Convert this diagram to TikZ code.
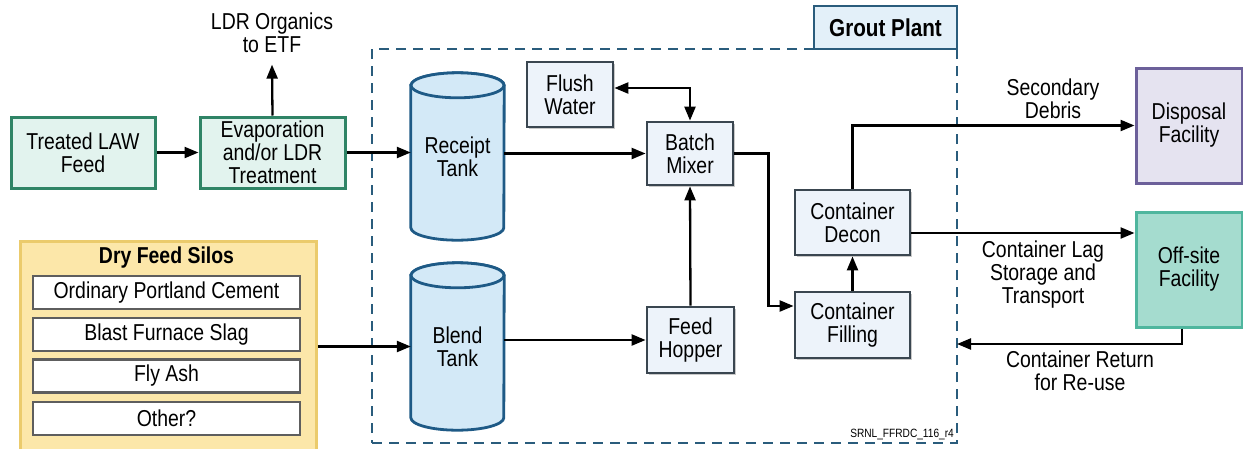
\documentclass[tikz,border=0pt]{standalone}
\usepackage{fontspec}
\setmainfont{Liberation Sans}[FakeStretch=0.845]
\usetikzlibrary{arrows.meta,shadows,calc,backgrounds}

\definecolor{greenfill}{HTML}{E2F3EE}
\definecolor{greenline}{HTML}{2F8466}
\definecolor{procfill}{HTML}{EDF3FA}
\definecolor{procline}{HTML}{3A4650}
\definecolor{tankfill}{HTML}{D3E9F7}
\definecolor{tankline}{HTML}{1E5A86}
\definecolor{plantline}{HTML}{2A5C7C}
\definecolor{plantfill}{HTML}{E3F0F9}
\definecolor{dispfill}{HTML}{E5E3F0}
\definecolor{displine}{HTML}{6C609A}
\definecolor{offfill}{HTML}{A5DCCF}
\definecolor{offline}{HTML}{4FB69E}
\definecolor{silofill}{HTML}{FCE7A9}
\definecolor{siloline}{HTML}{EBCB6C}
\definecolor{itemline}{HTML}{5E5E5E}

\tikzset{
  txt/.style={align=center, inner sep=0pt, font=\fontsize{23}{23}\selectfont},
  softshadow/.style={drop shadow={shadow xshift=2pt, shadow yshift=-2pt, opacity=0.3, fill=black!70}},
  greenbox/.style={txt, draw=greenline, fill=greenfill, line width=3pt, softshadow},
  procbox/.style={txt, draw=procline, fill=procfill, line width=2.8pt, softshadow},
  facbox/.style={txt, line width=3pt, minimum width=106pt, minimum height=115pt, softshadow},
  itembox/.style={txt, draw=itemline, fill=white, line width=2.6pt, minimum width=267pt, minimum height=33pt},
  tankbox/.style={txt, minimum width=93pt, minimum height=167pt},
  tank/.style={draw=tankline, fill=tankfill, line width=2.8pt},
  flow/.style={line width=2.3pt, -{Triangle[length=14pt,width=11pt]}},
}

\begin{document}
\begin{tikzpicture}[x=1pt,y=-1pt]
\useasboundingbox (0,0) rectangle (1243,448);

% Grout plant boundary and its title tab
\node[draw=plantline, line width=2.8pt, dash pattern=on 10pt off 7pt,
      minimum width=585pt, minimum height=394pt, inner sep=0pt] (plant) at (664.5,246) {};
\node[draw=plantline, fill=plantfill, line width=2.8pt, minimum width=143pt,
      minimum height=43pt, inner sep=0pt, font=\fontsize{24.5}{25}\selectfont\bfseries] (grout) at (885.5,27.5) {Grout Plant};
\node[anchor=base east, inner sep=0pt, font=\fontsize{12}{12}\selectfont] (tag) at (954,437) {SRNL\_FFRDC\_116\_r4};

% Liquid feed line
\node[greenbox, minimum width=144pt, minimum height=71pt] (law) at (83,152.5) {Treated LAW\\Feed};
\node[greenbox, minimum width=145pt, minimum height=71pt] (evap) at (272.5,152.5) {Evaporation\\and/or LDR\\Treatment};
\node[txt] (ldr) at (272,32.5) {LDR Organics\\to ETF};

% Tanks
\node[tankbox] (receipt) at (457.5,156.5) {Receipt\\Tank};
\node[tankbox] (blend) at (457.5,346.5) {Blend\\Tank};
\begin{scope}[on background layer]
\foreach \t in {receipt,blend}{
  \draw[tank] ($(\t.north west)+(0,12.5)$) -- ($(\t.south west)+(0,-12.5)$)
      arc[start angle=180, end angle=360, x radius=46.5pt, y radius=12.5pt]
      -- ($(\t.north east)+(0,12.5)$)
      arc[start angle=0, end angle=180, x radius=46.5pt, y radius=12.5pt] -- cycle;
  \draw[tank] ($(\t.north)+(0,12.5)$) ellipse[x radius=46.5pt, y radius=12.5pt];
}
\end{scope}

% Process equipment
\node[procbox, minimum width=86pt, minimum height=65pt] (flush) at (570,94.5) {Flush\\Water};
\node[procbox, minimum width=86pt, minimum height=63pt] (batch) at (690,153.5) {Batch\\Mixer};
\node[procbox, minimum width=87pt, minimum height=66pt] (hopper) at (690.5,340) {Feed\\Hopper};
\node[procbox, minimum width=115pt, minimum height=65pt] (decon) at (852.5,222.5) {Container\\Decon};
\node[procbox, minimum width=115pt, minimum height=66pt] (filling) at (852.5,325) {Container\\Filling};

% Destinations
\node[facbox, draw=displine, fill=dispfill] (disposal) at (1189,125.5) {Disposal\\Facility};
\node[facbox, draw=offline, fill=offfill] (offsite) at (1189,269.5) {Off-site\\Facility};

% Dry feed silos
\node[draw=siloline, fill=silofill, line width=2.8pt, minimum width=296pt,
      minimum height=210pt, inner sep=0pt, anchor=north west, softshadow] (silos) at (19,240) {};
\node[txt, font=\fontsize{23}{23}\selectfont\bfseries] (silotitle) at (166.5,258) {Dry Feed Silos};
\node[itembox] (opc) at (166.5,292.5) {Ordinary Portland Cement};
\node[itembox] (bfs) at (166.5,334.5) {Blast Furnace Slag};
\node[itembox] (fly) at (166.5,376) {Fly Ash};
\node[itembox] (other) at (166.5,418.5) {Other?};

% Flow labels
\node[txt] (debris) at (1053,99) {Secondary\\Debris};
\node[txt] (lag) at (1043,275) {Container Lag\\Storage and\\Transport};
\node[txt] (return) at (1080,371) {Container Return\\for Re-use};

% Connectors
\draw[flow] (law.east) -- (evap.west);
\draw[flow] (evap.north) -- ([yshift=-12pt]ldr.south);
\draw[flow] (evap.east) -- (receipt.west |- evap.east);
\draw[flow] (receipt.east |- batch.west) -- (batch.west);
\coordinate (fout) at ([yshift=6.5pt]flush.east);
\draw[line width=2.3pt, {Triangle[length=14pt,width=11pt]}-{Triangle[length=14pt,width=11pt]}] (fout) -| (batch.north);
\draw[flow] (hopper.north) -- (batch.south);
\draw[flow] (silos.east |- blend.west) -- (blend.west);
\draw[flow] (blend.east |- hopper.west) -- (hopper.west);
\coordinate (fin) at ([yshift=19pt]filling.west);
\draw[flow] (batch.east) -- ++(34,0) |- (fin);
\draw[flow] (filling.north) -- (decon.south);
\draw[flow] (decon.north) |- (disposal.west);
\coordinate (dout) at ([yshift=-10.5pt]decon.east);
\draw[flow] (dout) -- (dout -| offsite.west);
\coordinate (rback) at ([xshift=-7pt]offsite.south);
\coordinate (ret) at (957,344);
\draw[flow] (rback) |- (ret);
\end{tikzpicture}
\end{document}
